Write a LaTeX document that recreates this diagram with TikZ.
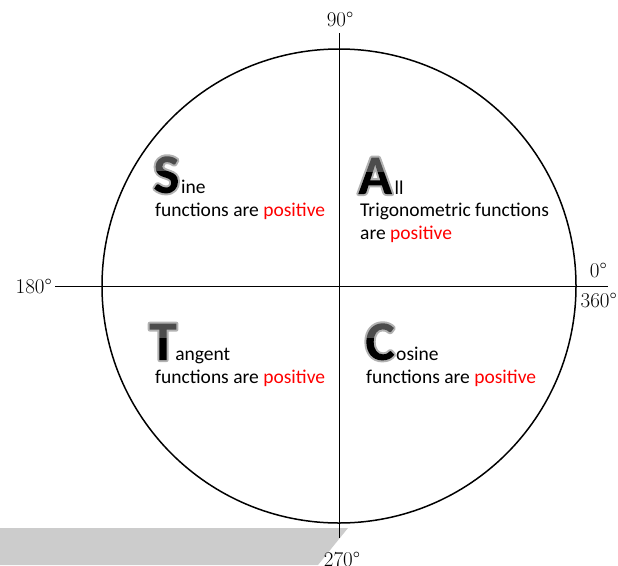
\documentclass[tikz,border=0pt]{standalone}
\usepackage{fontspec}
\usetikzlibrary{positioning}
\newfontfamily\quadfont{Carlito}
\newcommand\redword[1]{\textcolor{red}{#1}}
% big initial: grey rim stroked, glyph used as clip, then black body and grey top
\newcommand\ringletter[1]{%
  \special{pdf:literal direct q 5 Tr 4 w 1 j 0.7 G}#1%
  \special{pdf:literal 0 g -70 -20 75 42 re f 0.3 g -70 22 75 40 re f}%
  \special{pdf:literal direct Q}}
\tikzset{
  quad circle/.style={draw,circle,line width=1.5pt,inner sep=0pt},
  axis line/.style={line width=0.9pt},
  deg label/.style={font=\fontsize{21}{24}\selectfont,inner sep=0pt},
  cap letter/.style={font=\quadfont\bfseries\fontsize{56}{60}\selectfont,inner sep=0pt},
  quad text/.style={font=\quadfont\fontsize{19.5}{23}\selectfont,inner sep=0pt},
  shade band/.style={fill=black!20},
}
\begin{document}
\begin{tikzpicture}[x=1pt,y=-1pt]
  \useasboundingbox (0,0) rectangle (618,565);
  \fill[shade band] (0,528) -- (348,528) -- (318,565) -- (0,565) -- cycle;
  % circle and axes
  \node[quad circle,minimum size=474pt] (circ) at (339,286) {};
  \coordinate (top) at (339,33);
  \coordinate (bot) at (339,538);
  \coordinate (lft) at (55,286);
  \coordinate (rgt) at (608,286);
  \draw[axis line] (top) -- (bot);
  \draw[axis line] (lft) -- (rgt);
  \node[deg label,anchor=base] (d90) at (340,26.5) {90\textdegree};
  \node[deg label,anchor=base east] (d180) at (52,293) {180\textdegree};
  \node[deg label,anchor=base east] (d0) at (607,277) {0\textdegree};
  \node[deg label,anchor=base east] (d360) at (617,307) {360\textdegree};
  \node[deg label,anchor=base] (d270) at (342,566) {270\textdegree};
  % second quadrant
  \node[cap letter,anchor=base west] (S) at (153,193) {\ringletter{S}};
  \node[quad text,base right=1pt of S] (Srest) {ine};
  \node[quad text,anchor=base west] (Sfun) at (155,216)
    {functions are \redword{positive}};
  % first quadrant
  \node[cap letter,anchor=base west] (A) at (358,194) {\ringletter{A}};
  \node[quad text,base right=2pt of A] (Arest) {ll};
  \node[quad text,anchor=base west] (Afun) at (360,216)
    {Trigonometric functions};
  \node[quad text,anchor=base west] (Aare) at (360,239)
    {are \redword{positive}};
  % third quadrant
  \node[cap letter,anchor=base west] (T) at (149,360) {\ringletter{T}};
  \node[quad text,base right=-2pt of T] (Trest) {angent};
  \node[quad text,anchor=base west] (Tfun) at (155,383)
    {functions are \redword{positive}};
  % fourth quadrant
  \node[cap letter,anchor=base west] (C) at (365,360) {\ringletter{C}};
  \node[quad text,base right=1pt of C] (Crest) {osine};
  \node[quad text,anchor=base west] (Cfun) at (366,383)
    {functions are \redword{positive}};
\end{tikzpicture}
\end{document}
